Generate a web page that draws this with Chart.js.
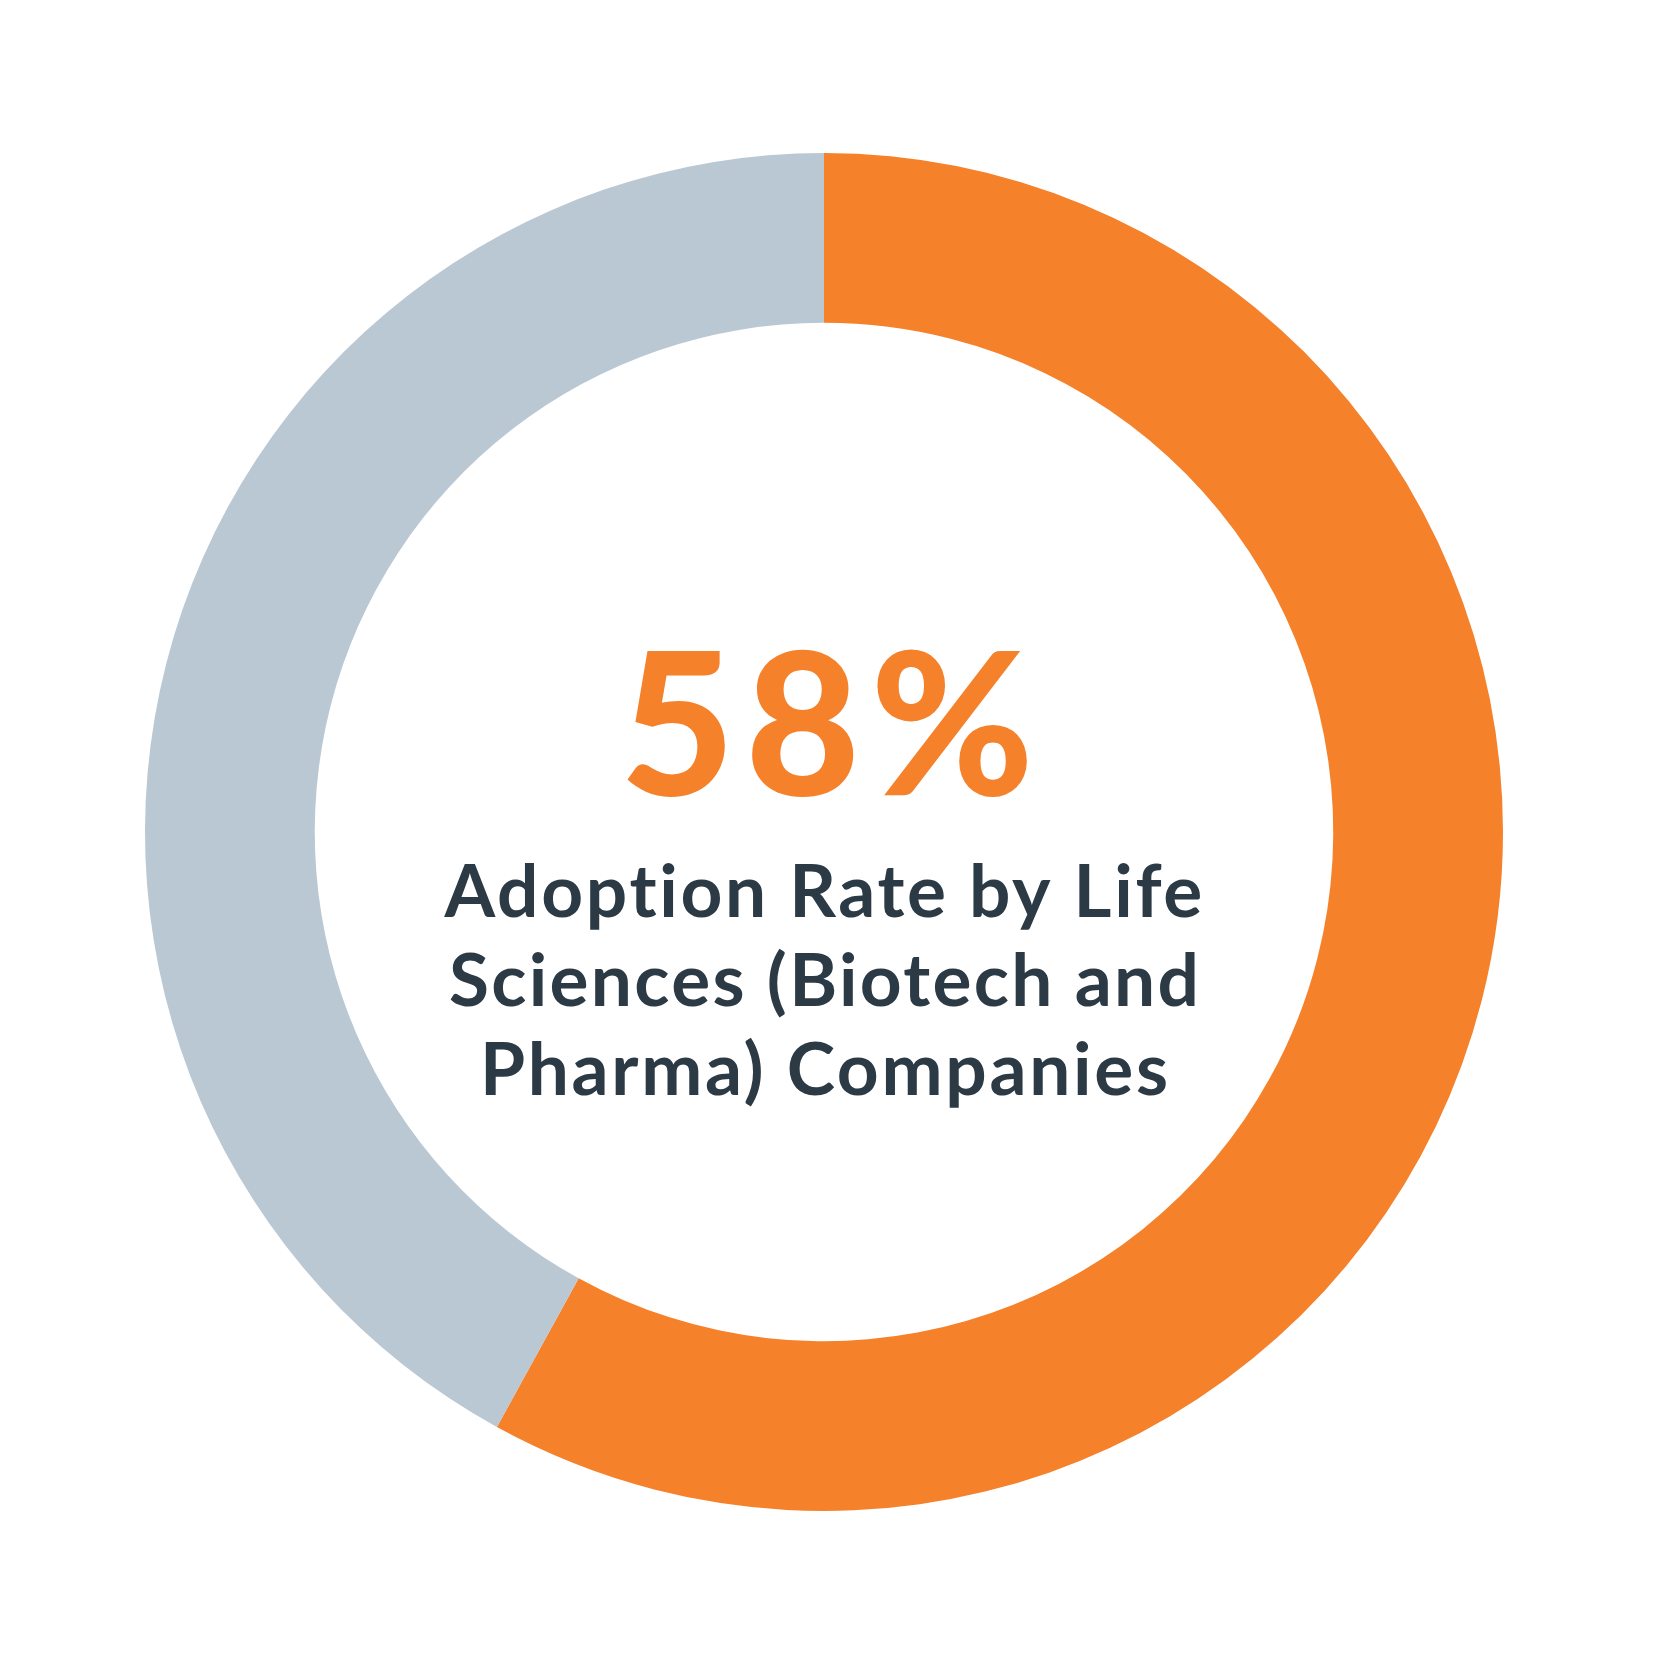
<!DOCTYPE html>
<html>
<head>
<meta charset="utf-8">
<script src="https://cdn.jsdelivr.net/npm/chart.js@4"></script>
<style>
  html, body { margin: 0; padding: 0; background: #ffffff; }
  #wrap { width: 1667px; height: 1667px; position: relative; }
</style>
</head>
<body>
<div id="wrap"><canvas id="c"></canvas></div>
<script>
const categories = ['Adopted', 'Not adopted'];
const values = [58, 42];
const sliceColors = ['#F5812B', '#BAC8D4'];
const headline = '58%';
const captionLines = ['Adoption Rate by Life', 'Sciences (Biotech and', 'Pharma) Companies'];

const centerText = {
  id: 'centerText',
  afterDatasetsDraw(chart) {
    const ctx = chart.ctx;
    const meta = chart.getDatasetMeta(0);
    const arc = meta.data[0];
    const cx = arc.x, cy = arc.y;
    ctx.save();
    ctx.textBaseline = 'alphabetic';
    ctx.textAlign = 'left';
    function fitDraw(text, font, color, targetW, baseY, dx) {
      ctx.font = font;
      ctx.letterSpacing = '0px';
      const w = ctx.measureText(text).width;
      const n = [...text].length;
      const sp = n > 1 ? (targetW - w) / (n - 1) : 0;
      ctx.letterSpacing = sp + 'px';
      ctx.fillStyle = color;
      ctx.fillText(text, cx + (dx || 0) - targetW / 2, baseY);
    }
    fitDraw(headline, '900 198px Lato', '#F5812B', 414, cy - 37, 3);
    const widths = [759, 750, 688];
    const baseOffsets = [85, 174, 263];
    captionLines.forEach((t, i) => {
      fitDraw(t, '700 73px Lato', '#2B3A45', widths[i], cy + baseOffsets[i], 0);
    });
    ctx.restore();
  }
};

new Chart(document.getElementById('c'), {
  type: 'doughnut',
  data: {
    labels: categories,
    datasets: [{
      data: values,
      backgroundColor: sliceColors,
      borderWidth: 0,
      hoverOffset: 0
    }]
  },
  options: {
    responsive: true,
    maintainAspectRatio: false,
    animation: false,
    cutout: '75%',
    layout: { padding: { left: 145, right: 164, top: 153, bottom: 156 } },
    plugins: {
      legend: { display: false },
      tooltip: { enabled: false }
    }
  },
  plugins: [centerText]
});
</script>
</body>
</html>
